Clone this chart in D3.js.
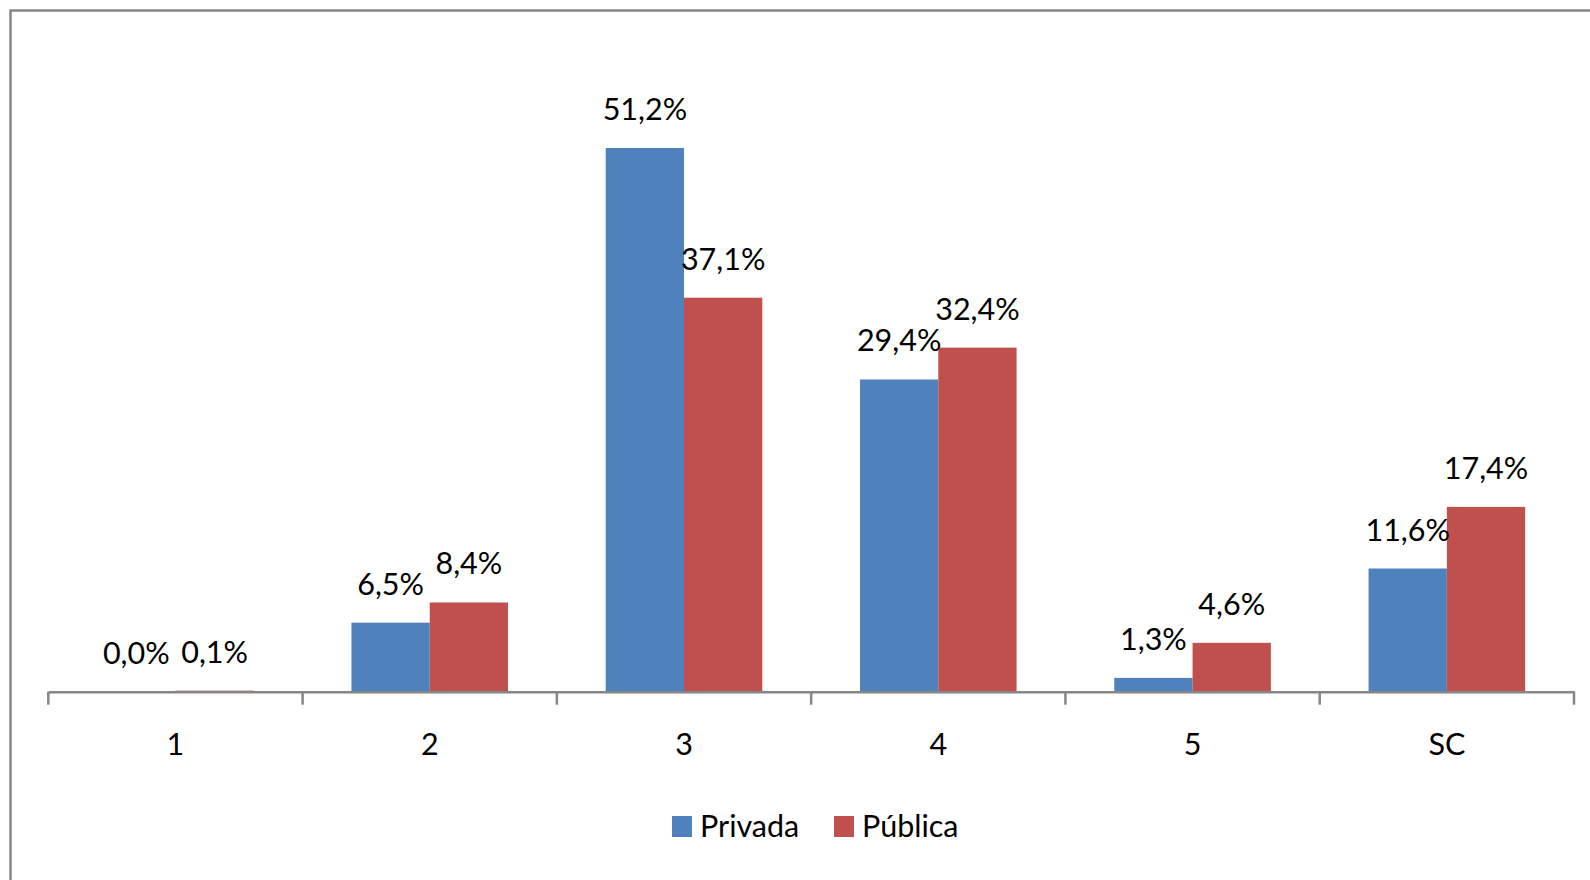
<!DOCTYPE html>
<html>
<head>
<meta charset="utf-8">
<script src="https://cdn.jsdelivr.net/npm/d3@7"></script>
<style>
  html, body { margin: 0; padding: 0; background: #fff; overflow: hidden; }
  svg { display: block; }
  text { font-family: Lato, "Open Sans", sans-serif; fill: #000; }
</style>
</head>
<body>
<svg id="chart" width="1590" height="880"></svg>
<script>
const categories = ["1", "2", "3", "4", "5", "SC"];
const seriesNames = ["Privada", "Pública"];
const privada = [0.0, 6.5, 51.2, 29.4, 1.3, 11.6];
const publica = [0.1, 8.4, 37.1, 32.4, 4.6, 17.4];
const colors = ["#4F81BD", "#C0504D"];
const yDomain = [0, 60];

const seriesValues = [privada, publica];
const data = categories.map((c, i) => ({
  cat: c,
  values: seriesNames.map((s, j) => ({ series: s, value: seriesValues[j][i], color: colors[j] }))
}));

const svg = d3.select("#chart");

// outer frame
svg.append("rect")
  .attr("x", 10.5).attr("y", 10.5)
  .attr("width", 1620).attr("height", 900)
  .attr("fill", "#fff")
  .attr("stroke", "#868686").attr("stroke-width", 2.5);

const axisY = 691.7;
const x = d3.scaleBand().domain(categories).range([48.3, 1574]).paddingInner(0).paddingOuter(0);
const x1 = d3.scaleBand().domain(seriesNames).range([0, x.bandwidth()]).paddingInner(0).paddingOuter(0.624);
const y = d3.scaleLinear().domain(yDomain).range([axisY, axisY - 60 * 10.62]);

const fmt = v => d3.format(".1f")(v).replace(".", ",") + "%";

const groups = svg.append("g").selectAll("g")
  .data(data).join("g")
  .attr("transform", d => `translate(${x(d.cat)},0)`);

groups.selectAll("rect")
  .data(d => d.values).join("rect")
  .attr("x", d => x1(d.series))
  .attr("width", x1.bandwidth())
  .attr("y", d => y(d.value))
  .attr("height", d => y(0) - y(d.value))
  .attr("fill", d => d.color);

groups.selectAll("text.lbl")
  .data(d => d.values).join("text")
  .attr("class", "lbl")
  .attr("x", d => x1(d.series) + x1.bandwidth() / 2)
  .attr("y", d => y(d.value) - 28)
  .attr("text-anchor", "middle")
  .style("font-size", "30.5px")
  .text(d => fmt(d.value));

// x axis
const axis = d3.axisBottom(x).tickSize(0).tickFormat(d => d);
const axG = svg.append("g").attr("transform", `translate(0,${axisY})`).call(axis);
axG.select(".domain").attr("stroke", "#868686").attr("stroke-width", 2.5);
axG.selectAll(".tick text")
  .attr("y", 0).attr("dy", 0)
  .attr("transform", "translate(0,63)")
  .style("font-size", "30.5px")
  .style("font-family", "Lato, 'Open Sans', sans-serif")
  .attr("fill", "#000");
// boundary ticks
const bounds = categories.map(c => x(c)).concat([x(categories[categories.length - 1]) + x.bandwidth()]);
axG.selectAll("line.bt").data(bounds).join("line")
  .attr("class", "bt")
  .attr("x1", d => d).attr("x2", d => d)
  .attr("y1", 0).attr("y2", 13)
  .attr("stroke", "#868686").attr("stroke-width", 2.5);

// legend
const legendItems = [
  { name: seriesNames[0], color: colors[0], x: 672 },
  { name: seriesNames[1], color: colors[1], x: 834 }
];
const lg = svg.append("g");
legendItems.forEach(it => {
  lg.append("rect").attr("x", it.x).attr("y", 816).attr("width", 20).attr("height", 21).attr("fill", it.color);
  lg.append("text").attr("x", it.x + 28).attr("y", 837)
    .style("font-size", "30.5px").text(it.name);
});
</script>
</body>
</html>
